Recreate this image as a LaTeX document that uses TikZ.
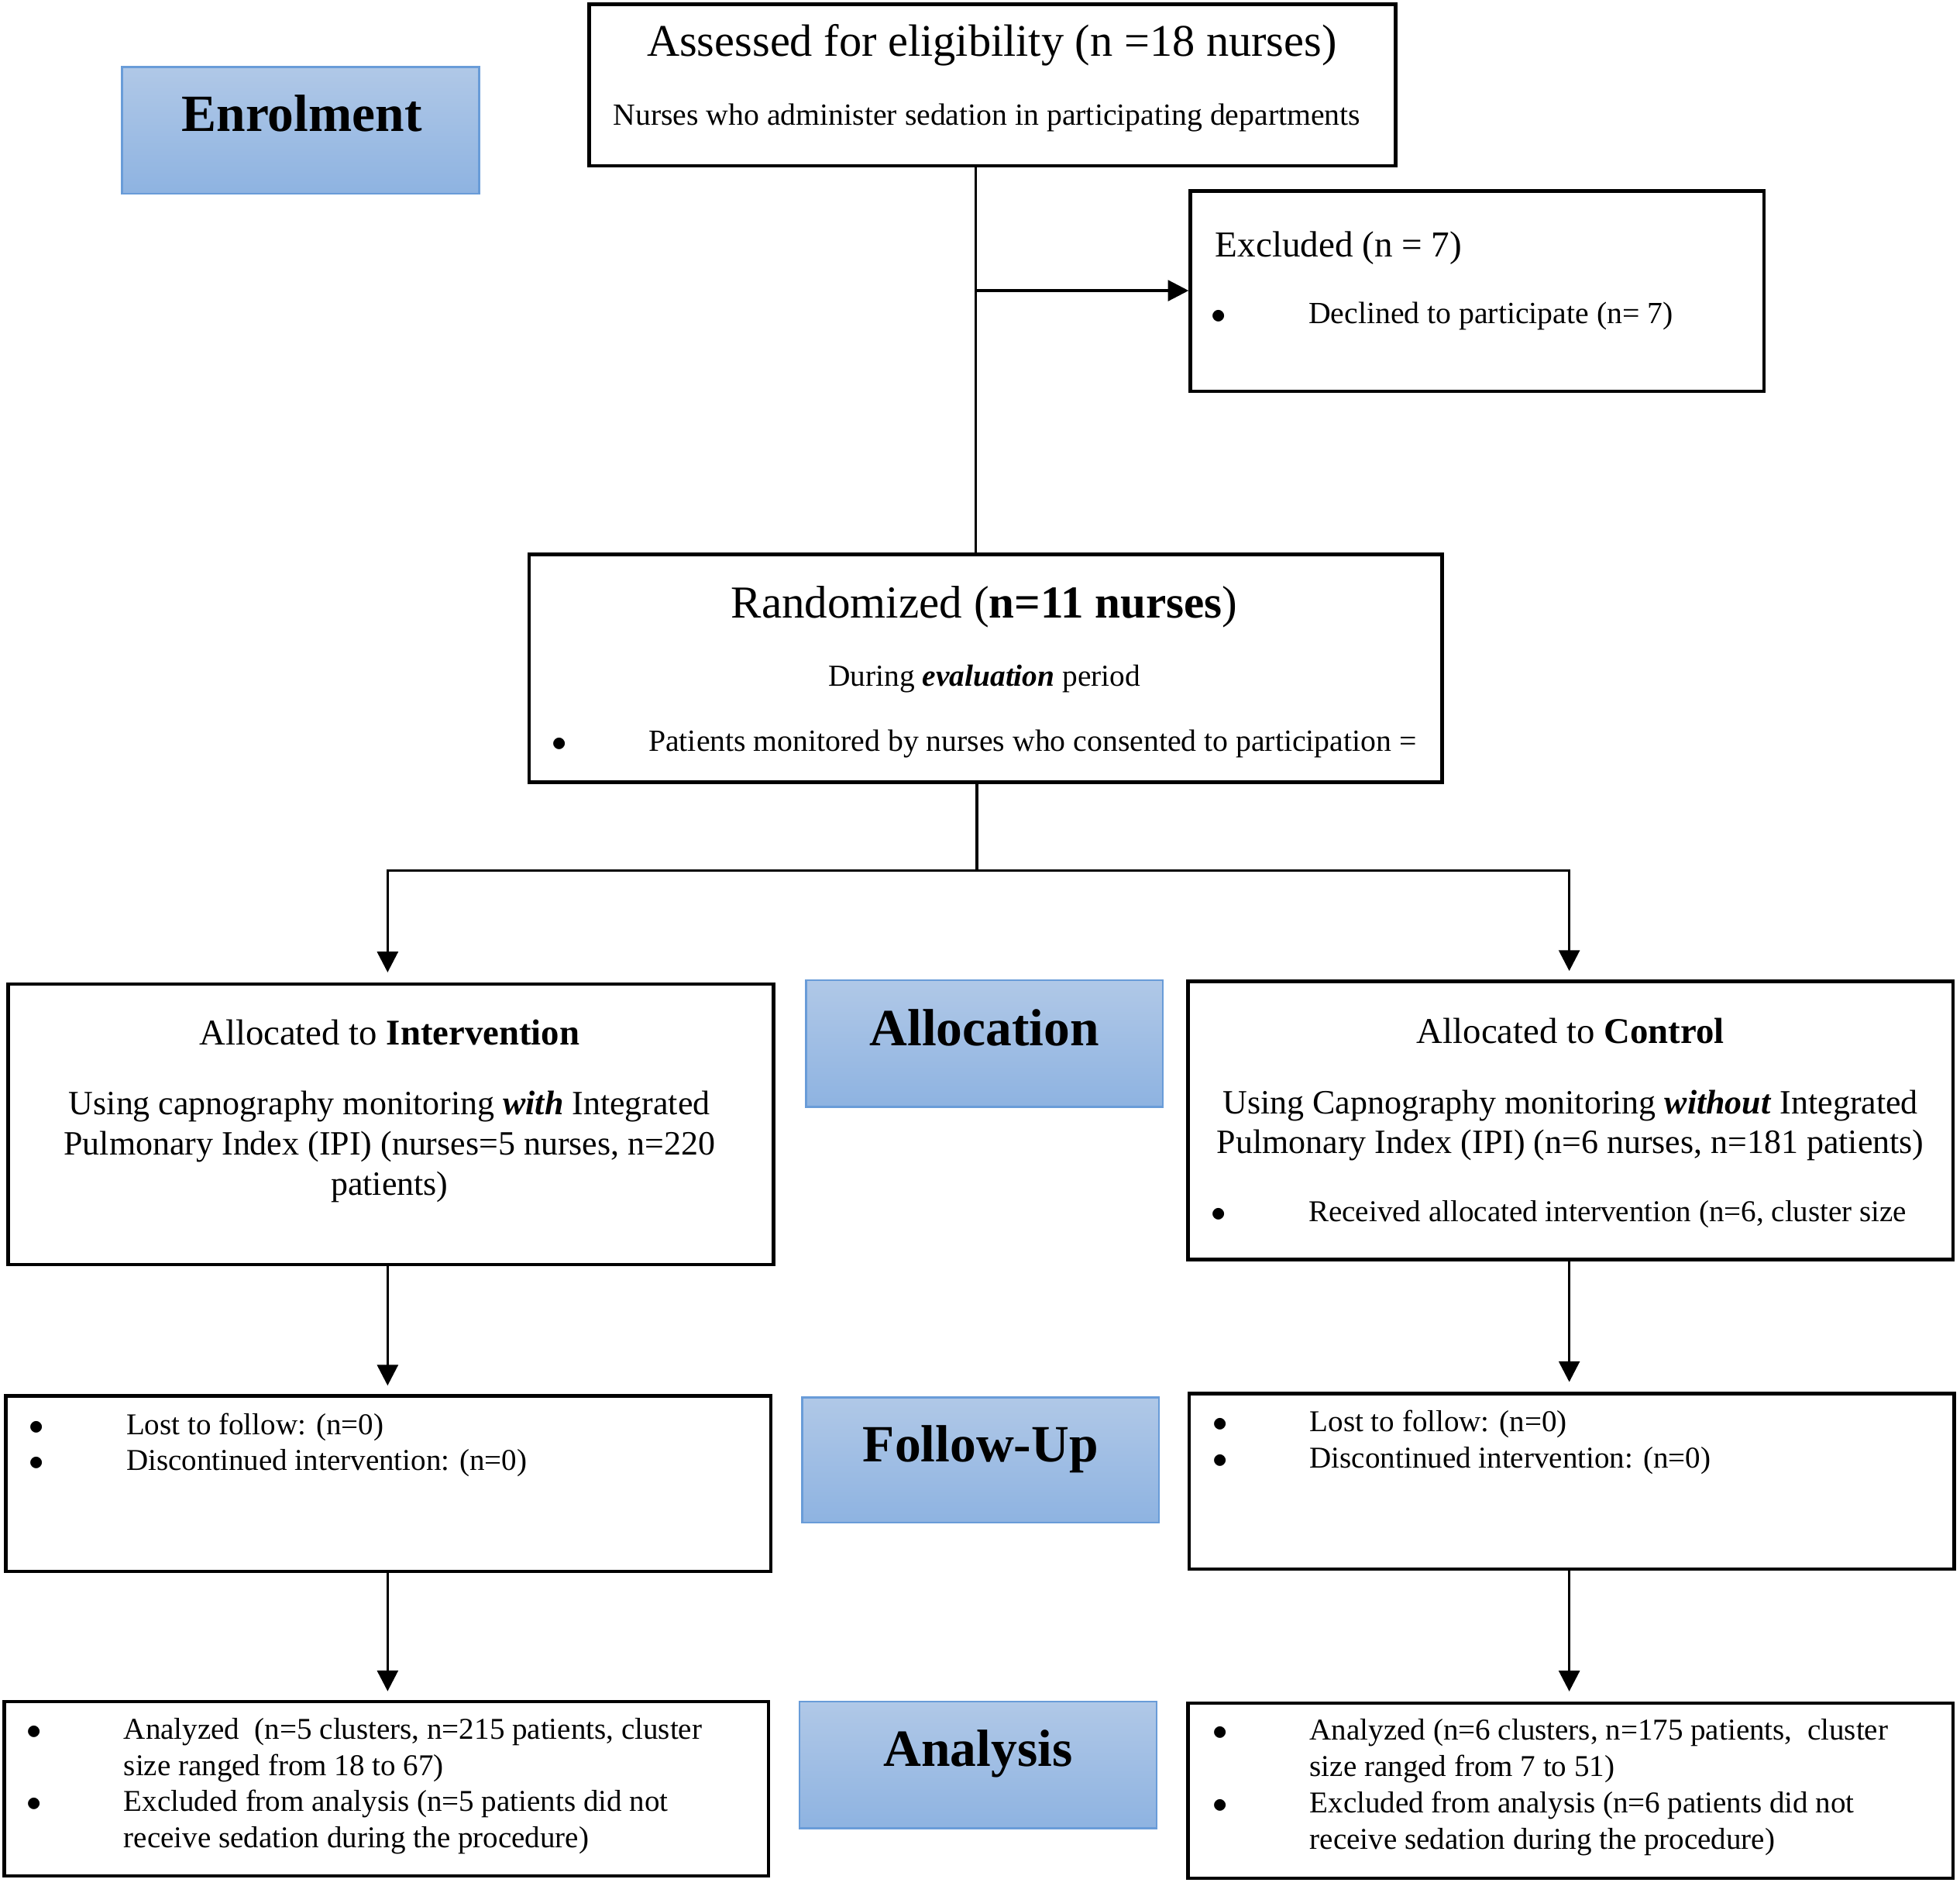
\documentclass[tikz,border=0pt]{standalone}
\usepackage{fontspec}
\setmainfont{Liberation Serif}
\usetikzlibrary{arrows.meta,fit}
\definecolor{stagetop}{RGB}{176,200,231}
\definecolor{stagebot}{RGB}{142,179,225}
\definecolor{stageline}{RGB}{105,156,216}
\newcommand{\titlesize}{\fontsize{16.8}{20}\selectfont}
\newcommand{\headsize}{\fontsize{13.3}{16}\selectfont}
\newcommand{\armsize}{\fontsize{12.5}{14.7}\selectfont}
\newcommand{\listsize}{\fontsize{11.1}{13.3}\selectfont}
\newcommand{\stagesize}{\fontsize{19.2}{23}\selectfont\bfseries}
\newcommand{\bul}{\makebox[35.6pt][l]{$\bullet$}}
\newcommand{\ind}{\hspace*{35.6pt}}
\begin{document}
\begin{tikzpicture}[x=0.016166cm,y=-0.016166cm,draw=black!100]
 	\def \midcol{786}
 	\def \leftcol{311}
 	\def \rightcol{1254}
 	\tikzstyle{box}=[rectangle,draw=black!100,line width=1.3pt,inner sep=0pt]
 	\tikzstyle{stage}=[rectangle,draw=stageline,line width=0.7pt,top color=stagetop,bottom color=stagebot,inner sep=0pt]
 	\tikzstyle{stage-text}=[font=\stagesize,inner sep=0pt,anchor=base]
 	\tikzstyle{c-text}=[align=center,inner sep=0pt,anchor=base]
 	\tikzstyle{l-text}=[align=left,inner sep=0pt,anchor=base west,font=\listsize]
 	\tikzstyle{link}=[line width=1pt]
 	\tikzstyle{arrow}=[link,-{Triangle[length=7.6pt,width=7.6pt]}]
 	\useasboundingbox (0,0) rectangle (1565,1505);
 	% stage labels
 	\node[stage,fit={(97.5,53.5) (382.5,154.5)}]		(enrol)		{};
 	\node[stage,fit={(643.5,782.5) (928.5,883.5)}]	(alloc)		{};
 	\node[stage,fit={(640.5,1115.5) (925.5,1215.5)}]	(follow)	{};
 	\node[stage,fit={(638.5,1358.5) (923.5,1459.5)}]	(analysis)	{};
 	\node[stage-text] 	(enrol-label)		at (241,105)	{Enrolment};
 	\node[stage-text] 	(alloc-label)		at (786,835)	{Allocation};
 	\node[stage-text] 	(follow-label)	at (783,1167)	{Follow-Up};
 	\node[stage-text] 	(analysis-label)	at (781,1410)	{Analysis};
 	% boxes
 	\node[box,fit={(470.5,3.5) (1114.5,132.5)}]		(assess)	{};
 	\node[box,fit={(950.5,152.5) (1408.5,312.5)}]	(excl)		{};
 	\node[box,fit={(422.5,442.5) (1151.5,624.5)}]	(rand)		{};
 	\node[box,fit={(6.5,785.5) (617.5,1009.5)}]		(interv)	{};
 	\node[box,fit={(948.5,783.5) (1559.5,1005.5)}]	(ctrl)		{};
 	\node[box,fit={(4.5,1114.5) (615.5,1254.5)}]		(fu-l)		{};
 	\node[box,fit={(949.5,1112.5) (1560.5,1252.5)}]	(fu-r)		{};
 	\node[box,fit={(3.5,1358.5) (613.5,1497.5)}]		(an-l)		{};
 	\node[box,fit={(948.5,1359.5) (1559.5,1499.5)}]	(an-r)		{};
 	% texts (multi-line nodes sit on their last baseline)
 	\node[c-text,font=\fontsize{16.6}{20}\selectfont] 	(assess-title)	at (792,45)	{Assessed for eligibility (n =18 nurses)};
 	\node[c-text,font=\fontsize{11.3}{13.5}\selectfont] 	(assess-sub)	at (788,100)	{Nurses who administer sedation in participating departments};
 	\node[l-text,font=\fontsize{13.4}{16}\selectfont] 	(excl-title)	at (970,205)	{Excluded (n = 7)};
 	\node[l-text,font=\fontsize{11.3}{13.5}\selectfont] 	(excl-list)	at (967,258)	{\bul Declined to participate (n= 7)};
 	\node[c-text,font=\titlesize] 	(rand-title)	at (\midcol,493)	{Randomized (\textbf{n=11 nurses})};
 	\node[c-text,font=\fontsize{11.2}{13.5}\selectfont] 	(rand-sub)	at (\midcol,548)	{During \textbf{\textit{evaluation}} period};
 	\node[l-text,font=\fontsize{11.3}{13.5}\selectfont] 	(rand-list)	at (440,600)	{\bul Patients monitored by nurses who consented to participation =};
 	\node[c-text,font=\headsize] 	(interv-title)	at (\leftcol,834)	{Allocated to \textbf{Intervention}};
 	\node[c-text,font=\armsize] 	(interv-text)	at (\leftcol,954)	{Using capnography monitoring \textbf{\textit{with}} Integrated\\Pulmonary Index (IPI) (nurses=5 nurses, n=220\\patients)};
 	\node[c-text,font=\headsize] 	(ctrl-title)	at (\rightcol,833)	{Allocated to \textbf{Control}};
 	\node[c-text,font=\armsize] 	(ctrl-text)	at (\rightcol,921)	{Using Capnography monitoring \textbf{\textit{without}} Integrated\\Pulmonary Index (IPI) (n=6 nurses, n=181 patients)};
 	\node[l-text] 	(ctrl-list)	at (967,975)	{\bul Received allocated intervention (n=6, cluster size};
 	% follow-up layer
 	\node[l-text] 	(fu-l-list)	at (23,1174)	{\bul Lost to follow: (n=0)\\\bul Discontinued intervention: (n=0)};
 	\node[l-text] 	(fu-r-list)	at (968,1172)	{\bul Lost to follow: (n=0)\\\bul Discontinued intervention: (n=0)};
 	% analysis layer
 	\node[l-text] 	(an-l-list)	at (21,1475)	{\bul Analyzed~ (n=5 clusters, n=215 patients, cluster\\\ind size ranged from 18 to 67)\\\bul Excluded from analysis (n=5 patients did not\\\ind receive sedation during the procedure)};
 	\node[l-text] 	(an-r-list)	at (968,1476)	{\bul Analyzed (n=6 clusters, n=175 patients,~ cluster\\\ind size ranged from 7 to 51)\\\bul Excluded from analysis (n=6 patients did not\\\ind receive sedation during the procedure)};
 	% connectors
 	\coordinate (split) at (779,232);
 	\coordinate (fork) at (780,695);
 	\coordinate (arm-l) at (309.5,0);
 	\coordinate (arm-r) at (1253,0);
 	\draw[link] 	(split |- assess.south) -- (split |- rand.north);
 	\draw[arrow] 	(split) -- (excl.west |- split);
 	\draw[link] 	(fork |- rand.south) -- (fork);
 	\draw[arrow,shorten >=3.6pt] 	(fork) -| (arm-l |- interv.north);
 	\draw[arrow,shorten >=3.2pt] 	(fork) -| (arm-r |- ctrl.north);
 	\draw[arrow,shorten >=3.2pt] 	(arm-l |- interv.south) -- (arm-l |- fu-l.north);
 	\draw[arrow,shorten >=3.6pt] 	(arm-r |- ctrl.south) -- (arm-r |- fu-r.north);
 	\draw[arrow,shorten >=3.2pt] 	(arm-l |- fu-l.south) -- (arm-l |- an-l.north);
 	\draw[arrow,shorten >=3.6pt] 	(arm-r |- fu-r.south) -- (arm-r |- an-r.north);
\end{tikzpicture}
\end{document}
